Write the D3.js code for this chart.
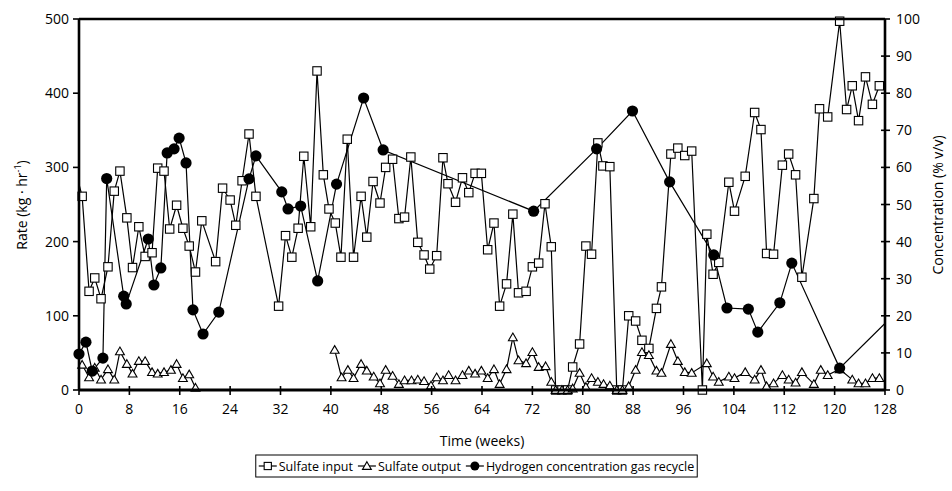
<!DOCTYPE html>
<html>
<head>
<meta charset="utf-8">
<script src="https://cdn.jsdelivr.net/npm/d3@7"></script>
<style>
  body { margin: 0; background: #fff; }
  svg text { font-family: "Open Sans", "DejaVu Sans", sans-serif; fill: #000; }
</style>
</head>
<body>
<svg id="chart" width="952" height="491"></svg>
<script>
// Sulfate input (kg/hr), left axis
const inputWeeks = [-1, 0.5, 1.6, 2.5, 3.5, 4.6, 5.6, 6.5, 7.6, 8.5, 9.5, 10.5, 11.6, 12.5, 13.5, 14.4, 15.5, 16.5, 17.5, 18.5, 19.5,
  21.7, 22.8, 24, 24.9, 25.9, 27, 28.1, 31.7, 32.8, 33.8, 34.8, 35.7, 36.8, 37.8, 38.8, 39.7, 40.7, 41.6, 42.6, 43.6,
  44.8, 45.7, 46.7, 47.8, 48.7, 49.8, 50.8, 51.7, 52.7, 53.8, 54.8, 55.7, 56.8, 57.8, 58.6, 59.8, 60.9, 61.9, 62.9,
  63.9, 64.9, 65.9, 66.8, 67.9, 68.9, 69.8, 71, 72, 73, 74, 75, 75.7, 76.7, 77.6, 78.4, 79.5, 80.5, 81.4, 82.4, 83.2,
  84.3, 85.4, 86.3, 87.3, 88.4, 89.4, 90.5, 91.7, 92.5, 94, 95.1, 96.2, 97.3, 99, 99.7, 100.7, 101.6, 103.2, 104.1,
  105.8, 107.3, 108.3, 109.2, 110.3, 111.7, 112.7, 113.8, 114.8, 116.7, 117.6, 118.9, 120.8, 121.9, 122.8, 123.8,
  124.9, 126, 127.1]
const inputRate = [310, 261, 133, 151, 123, 166, 268, 295, 232, 165, 220, 180, 185, 299, 295, 217, 249, 218, 194, 159, 228,
  173, 272, 256, 222, 282, 345, 261, 113, 208, 179, 218, 315, 220, 430, 290, 244, 225, 179, 338, 179,
  261, 206, 281, 252, 300, 311, 231, 233, 314, 199, 182, 163, 181, 313, 278, 253, 286, 266, 292,
  292, 189, 225, 113, 143, 237, 131, 133, 166, 171, 251, 193, 0, 0, 0, 31, 62, 194, 183, 333, 302,
  301, 0, 0, 100, 93, 67, 56, 110, 139, 318, 326, 316, 322, 0, 210, 156, 172, 280, 241,
  288, 374, 351, 184, 183, 303, 318, 290, 152, 258, 379, 368, 497, 378, 410, 363,
  422, 385, 410]

// Sulfate output (kg/hr), left axis; null = no sample
const outputWeeks = [0.5, 1.6, 2.5, 3.5, 4.6, 5.6, 6.5, 7.6, 8.5, 9.5, 10.5, 11.6, 12.5, 13.5, 14.6, 15.5, 16.5, 17.5, 18.5, 30,
  40.6, 41.7, 42.7, 43.6, 44.8, 45.7, 46.8, 47.8, 48.7, 49.8, 50.8, 51.7, 52.8, 53.8, 54.8, 55.9, 56.8, 57.8, 58.7,
  59.8, 60.9, 61.9, 62.9, 63.9, 64.9, 65.9, 66.8, 67.9, 68.9, 69.8, 71, 72, 73, 74.1, 75, 75.7, 76.7, 77.6, 78.4,
  79.5, 80.5, 81.4, 82.4, 83.3, 84.3, 85.4, 86.3, 87.3, 88.4, 89.4, 90.5, 91.7, 92.5, 94, 95.1, 96.2, 97.3, 99.7,
  100.7, 101.6, 103.2, 104.1, 105.8, 107.3, 108.3, 109.2, 110.3, 111.7, 112.7, 113.8, 114.8, 116.7, 117.8, 118.9,
  120.8, 122.8, 123.8, 124.9, 126, 127.1]
const outputRate = [34, 17, 30, 14, 28, 14, 52, 35, 22, 39, 39, 24, 22, 24, 27, 35, 16, 21, 3, null,
  54, 17, 27, 16, 35, 26, 18, 9, 27, 19, 8, 13, 13, 14, 12, 6, 17, 13, 20,
  13, 20, 26, 22, 26, 16, 28, 8, 28, 71, 40, 36, 51, 31, 32, 11, 0, 0, 0, 2,
  23, 4, 16, 11, 8, 6, 0, 0, 5, 27, 51, 47, 26, 23, 62, 39, 24, 23, 36,
  18, 11, 18, 16, 24, 14, 27, 5, 9, 20, 14, 10, 24, 8, 27, 20,
  28, 14, 9, 9, 16, 16]

// Hydrogen concentration in gas recycle (% v/v), right axis
const h2Weeks = [-0.5, 0, 1.1, 2.1, 3.8, 4.4, 7.1, 7.5, 11, 11.9, 13, 14, 15.1, 15.9, 17, 18.1, 19.7, 22.2, 27, 28.1,
  32.2, 33.2, 35.2, 37.9, 40.9, 45.2, 48.3, 72.2, 82.2, 87.9, 93.8, 100.8, 102.9, 106.3, 107.8, 111.3, 113.2,
  120.8, 131]
const h2Conc = [26, 9.7, 12.9, 5.1, 8.6, 57, 25.3, 23.2, 40.7, 28.3, 32.9, 63.9, 65, 67.9, 61.2, 21.6, 15.1, 21, 56.9, 63.1,
  53.4, 48.8, 49.6, 29.4, 55.5, 78.7, 64.7, 48.2, 65, 75.2, 56.1, 36.4, 22.1, 21.8, 15.6, 23.5, 34.2,
  5.9, 23]

const xTicks = d3.range(0, 129, 8)
const leftTicks = [0, 100, 200, 300, 400, 500]
const rightTicks = d3.range(0, 101, 10)

const svg = d3.select('#chart')
const margin = { left: 79, right: 885, top: 19, bottom: 390 }

const x = d3.scaleLinear().domain([0, 128]).range([margin.left, margin.right])
const yL = d3.scaleLinear().domain([0, 500]).range([margin.bottom, margin.top])
const yR = d3.scaleLinear().domain([0, 100]).range([margin.bottom, margin.top])

svg.append('defs').append('clipPath').attr('id', 'plot-clip')
    .append('rect')
    .attr('x', margin.left).attr('y', 0)
    .attr('width', margin.right - margin.left).attr('height', 491)

const toPoints = (weeks, vals) => weeks.map((w, i) => ({ w, v: vals[i] }))
const inRange = d => d.v != null && d.w >= 0 && d.w <= 128

const series = [
    { key: 'input', pts: toPoints(inputWeeks, inputRate), y: yL, marker: 'square' },
    { key: 'output', pts: toPoints(outputWeeks, outputRate), y: yL, marker: 'triangle' },
    { key: 'h2', pts: toPoints(h2Weeks, h2Conc), y: yR, marker: 'circle' }
]

const gPlot = svg.append('g').attr('clip-path', 'url(#plot-clip)')
const triangle = d3.symbol().type(d3.symbolTriangle).size(34)

const drawMarker = (sel, type) => {
    if (type === 'square') {
        sel.append('rect')
            .attr('x', -4.2).attr('y', -4.2).attr('width', 8.4).attr('height', 8.4)
            .attr('fill', '#fff').attr('stroke', '#000').attr('stroke-width', 1.1)
    } else if (type === 'triangle') {
        sel.append('path').attr('d', triangle).attr('transform', 'translate(0,0.8)')
            .attr('fill', '#fff').attr('stroke', '#000').attr('stroke-width', 1.1)
    } else {
        sel.append('circle').attr('r', 5.6).attr('fill', '#000')
    }
}

series.forEach(s => {
    const line = d3.line()
        .defined(d => d.v != null)
        .x(d => x(d.w))
        .y(d => s.y(d.v))
    gPlot.append('path')
        .datum(s.pts)
        .attr('d', line)
        .attr('fill', 'none')
        .attr('stroke', '#000')
        .attr('stroke-width', 1.2)

    svg.append('g')
        .selectAll('g')
        .data(s.pts.filter(inRange))
        .join('g')
        .attr('transform', d => `translate(${x(d.w)},${s.y(d.v)})`)
        .call(g => drawMarker(g, s.marker))
})

// Frame and axes
const axisW = 2.6
svg.append('line').attr('x1', margin.left).attr('x2', margin.right).attr('y1', margin.top).attr('y2', margin.top)
    .attr('stroke', '#000').attr('stroke-width', axisW)
svg.append('line').attr('x1', margin.left).attr('x2', margin.right).attr('y1', margin.bottom).attr('y2', margin.bottom)
    .attr('stroke', '#000').attr('stroke-width', 3.2)
svg.append('line').attr('x1', margin.left).attr('x2', margin.left).attr('y1', margin.top).attr('y2', margin.bottom)
    .attr('stroke', '#000').attr('stroke-width', axisW)
svg.append('line').attr('x1', margin.right).attr('x2', margin.right).attr('y1', margin.top).attr('y2', margin.bottom)
    .attr('stroke', '#000').attr('stroke-width', axisW)

// bottom ticks cross the axis
const gx = svg.append('g')
gx.selectAll('line').data(xTicks).join('line')
    .attr('x1', d => x(d)).attr('x2', d => x(d))
    .attr('y1', margin.bottom - 4).attr('y2', margin.bottom + 5)
    .attr('stroke', '#000').attr('stroke-width', 1.6)
gx.selectAll('text').data(xTicks).join('text')
    .attr('x', d => x(d)).attr('y', 414)
    .attr('text-anchor', 'middle').attr('font-size', 14)
    .text(d => d)

// left ticks point outward
const gl = svg.append('g')
gl.selectAll('line').data(leftTicks).join('line')
    .attr('x1', margin.left - 6).attr('x2', margin.left)
    .attr('y1', d => yL(d)).attr('y2', d => yL(d))
    .attr('stroke', '#000').attr('stroke-width', 1.6)
gl.selectAll('text').data(leftTicks).join('text')
    .attr('x', 69).attr('y', d => yL(d) + 5)
    .attr('text-anchor', 'end').attr('font-size', 14)
    .text(d => d)

// right ticks cross the axis
const gr = svg.append('g')
gr.selectAll('line').data(rightTicks).join('line')
    .attr('x1', margin.right - 4).attr('x2', margin.right + 5)
    .attr('y1', d => yR(d)).attr('y2', d => yR(d))
    .attr('stroke', '#000').attr('stroke-width', 1.6)
gr.selectAll('text').data(rightTicks).join('text')
    .attr('x', 896).attr('y', d => yR(d) + 5)
    .attr('text-anchor', 'start').attr('font-size', 14)
    .text(d => d)

// Axis titles
svg.append('text')
    .attr('x', (margin.left + margin.right) / 2).attr('y', 446)
    .attr('text-anchor', 'middle').attr('font-size', 14)
    .text('Time (weeks)')

const yTitle = svg.append('text')
    .attr('transform', 'translate(27,205) rotate(-90)')
    .attr('text-anchor', 'middle').attr('font-size', 14)
yTitle.append('tspan').text('Rate (kg · hr')
yTitle.append('tspan').attr('font-size', 9).attr('dy', -6).text('-1')
yTitle.append('tspan').attr('dy', 6).text(')')

svg.append('text')
    .attr('transform', 'translate(943,205) rotate(-90)')
    .attr('text-anchor', 'middle').attr('font-size', 14)
    .text('Concentration (% v/v)')

// Legend
const legendItems = [
    { label: 'Sulfate input', marker: 'square' },
    { label: 'Sulfate output', marker: 'triangle' },
    { label: 'Hydrogen concentration gas recycle', marker: 'circle' }
]
const gLeg = svg.append('g')
const legY = 466
let cx = 0
legendItems.forEach(item => {
    const g = gLeg.append('g').attr('transform', `translate(${cx},${legY})`)
    g.append('line').attr('x1', 0).attr('x2', 18).attr('y1', 0).attr('y2', 0)
        .attr('stroke', '#000').attr('stroke-width', 1.2)
    const m = g.append('g').attr('transform', 'translate(9,0)')
    drawMarker(m, item.marker)
    if (item.marker === 'circle') m.select('circle').attr('r', 4.5)
    if (item.marker === 'square') m.select('rect').attr('x', -3.6).attr('y', -3.6).attr('width', 7.2).attr('height', 7.2)
    const t = g.append('text').attr('x', 20).attr('y', 4.5).attr('font-size', 12.5).text(item.label)
    cx += 20 + t.node().getComputedTextLength() + 5
})
const legW = cx - 2
const legX0 = 478 - legW / 2
gLeg.attr('transform', `translate(${legX0},0)`)
svg.insert('rect', 'g')
    .attr('x', legX0 - 3).attr('y', 455)
    .attr('width', legW + 3).attr('height', 22)
    .attr('fill', '#fff').attr('stroke', '#000').attr('stroke-width', 1)
</script>
</body>
</html>
